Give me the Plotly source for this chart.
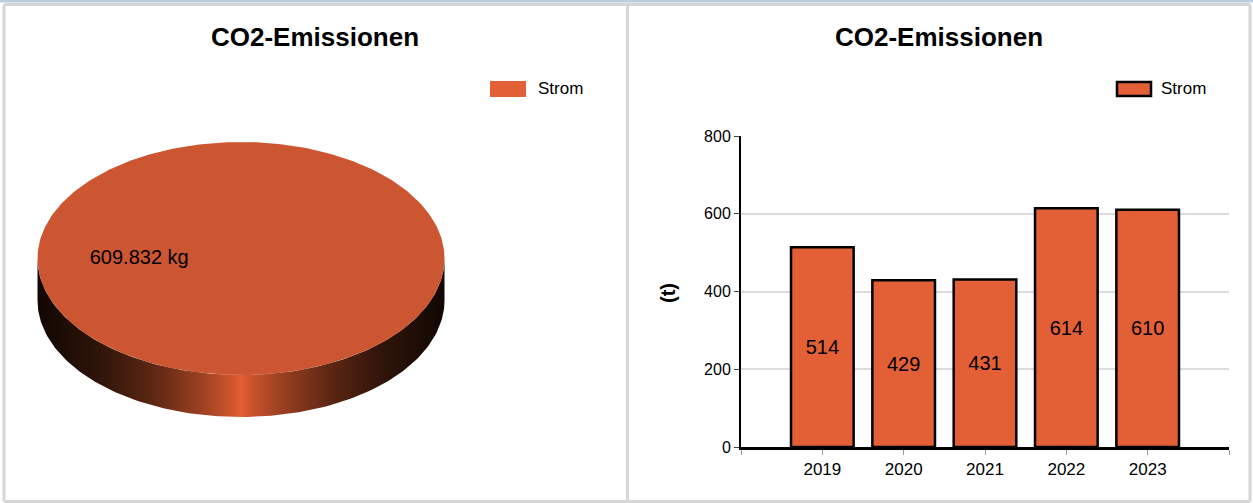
import numpy as np
import plotly.graph_objects as go

# left panel: total per source (kg)
pie_labels = ['Strom']
pie_values = [609.832]
pie_unit = 'kg'

# right panel: yearly emissions per source (t)
years = [2019, 2020, 2021, 2022, 2023]
strom_t = [514, 429, 431, 614, 610]
series_name = 'Strom'

chart_title = 'CO2-Emissionen'
y_title = '(t)'

W, H = 1253, 503
FONT = 'Arial, Liberation Sans, sans-serif'
ORANGE = '#e36036'
TOP_FACE = '#cc5631'

# 3d pie geometry (pixels)
CX, CY, RX, RY, DEPTH = 241, 258.5, 203.5, 116.5, 42

side_scale = [
    [0.0, '#120704'], [0.15, '#2e1409'], [0.28, '#5c2613'], [0.4, '#9a4022'],
    [0.47, '#c9522d'], [0.5, '#e35e35'], [0.53, '#c9522d'], [0.6, '#9a4022'],
    [0.72, '#5c2613'], [0.85, '#2e1409'], [1.0, '#120704'],
]

fig = go.Figure()

# bars
fig.add_trace(go.Bar(x=years, y=strom_t, width=0.77, name=series_name,
                     marker=dict(color=ORANGE, line=dict(color='black', width=2.5)),
                     text=[str(v) for v in strom_t], textposition='inside',
                     insidetextanchor='middle', textangle=0,
                     textfont=dict(size=20, color='black', family=FONT),
                     showlegend=False))

# pie drawn as an ellipse on a pixel-space axis pair
total = sum(pie_values)
start = 0.0
for lab, val in zip(pie_labels, pie_values):
    a0 = start
    a1 = start + 2 * np.pi * val / total
    start = a1

    # side wall, only the visible front half
    s0, s1 = max(a0, 0.0), min(a1, np.pi)
    if s1 > s0:
        t = np.linspace(s0, s1, 160)
        xs = CX + RX * np.cos(t)
        ys = CY + RY * np.sin(t)
        fig.add_trace(go.Scatter(x=np.r_[xs, xs[::-1]], y=np.r_[ys, ys[::-1] + DEPTH],
                                 xaxis='x2', yaxis='y2', mode='lines', line=dict(width=0),
                                 fill='toself',
                                 fillgradient=dict(type='horizontal', colorscale=side_scale),
                                 hoverinfo='skip', showlegend=False))

    # top face
    t = np.linspace(a0, a1, 300)
    xs = CX + RX * np.cos(t)
    ys = CY + RY * np.sin(t)
    if a1 - a0 < 2 * np.pi - 1e-9:
        xs = np.r_[CX, xs, CX]
        ys = np.r_[CY, ys, CY]
    fig.add_trace(go.Scatter(x=xs, y=ys, xaxis='x2', yaxis='y2', mode='lines',
                             line=dict(width=0), fill='toself', fillcolor=TOP_FACE,
                             name=lab, hoverinfo='skip', showlegend=False))

    mid = (a0 + a1) / 2
    fig.add_trace(go.Scatter(x=[CX + 0.5 * RX * np.cos(mid)], y=[CY + 0.5 * RY * np.sin(mid)],
                             xaxis='x2', yaxis='y2', mode='text',
                             text=[f'{val:.3f} {pie_unit}'],
                             textfont=dict(size=20, color='black', family=FONT),
                             hoverinfo='skip', showlegend=False))

# frame around the two panels (pixel space on x2/y2)
shapes = [
    dict(type='rect', xref='x2', yref='y2', x0=0, x1=W, y0=0, y1=2.5,
         fillcolor='#b9cde5', line=dict(width=0)),
]
for x0, x1, y0, y1 in [(4, 1250, 4.5, 4.5), (4, 1250, 501.5, 501.5),
                       (4, 4, 4.5, 501.5), (627.5, 627.5, 4.5, 501.5),
                       (1250, 1250, 4.5, 501.5)]:
    shapes.append(dict(type='line', xref='x2', yref='y2', x0=x0, x1=x1, y0=y0, y1=y1,
                       line=dict(color='#d6d6d6', width=3)))

# legend swatches
shapes.append(dict(type='rect', xref='x2', yref='y2', x0=490, x1=526, y0=81, y1=97,
                   fillcolor=ORANGE, line=dict(width=0)))
shapes.append(dict(type='rect', xref='x2', yref='y2', x0=1117, x1=1151, y0=82, y1=96,
                   fillcolor=ORANGE, line=dict(color='black', width=2.5)))

annotations = [
    dict(xref='x2', yref='y2', x=314.5, y=37, text=chart_title, showarrow=False,
         font=dict(size=26, color='black', family=FONT, weight='bold')),
    dict(xref='x2', yref='y2', x=939, y=37, text=chart_title, showarrow=False,
         font=dict(size=26, color='black', family=FONT, weight='bold')),
    dict(xref='x2', yref='y2', x=536, y=88, text=pie_labels[0], showarrow=False,
         xanchor='left', font=dict(size=17, color='black', family=FONT)),
    dict(xref='x2', yref='y2', x=1159, y=88, text=series_name, showarrow=False,
         xanchor='left', font=dict(size=17, color='black', family=FONT)),
    dict(xref='x2', yref='y2', x=668, y=293, text=y_title, showarrow=False, textangle=-90,
         font=dict(size=20, color='black', family=FONT, weight='bold')),
]

fig.update_layout(
    width=W, height=H,
    margin=dict(l=0, r=0, t=0, b=0, pad=0, autoexpand=False),
    paper_bgcolor='white', plot_bgcolor='rgba(0,0,0,0)',
    font=dict(family=FONT, color='black'),
    showlegend=False,
    xaxis=dict(domain=[741 / W, 1229 / W], anchor='y', range=[2018, 2024],
               tickvals=[2018] + years + [2024], ticktext=[''] + [str(y) for y in years] + [''],
               showline=True, linecolor='black', linewidth=3,
               ticks='outside', ticklen=5, tickcolor='#999999', tickwidth=1,
               tickfont=dict(size=17), showgrid=False, zeroline=False,
               automargin=False, fixedrange=True),
    yaxis=dict(domain=[1 - 447 / H, 1 - 136 / H], anchor='x', range=[0, 800], dtick=200,
               showline=True, linecolor='black', linewidth=2,
               ticks='outside', ticklen=5, tickcolor='#444444', tickwidth=1,
               tickfont=dict(size=16), gridcolor='#dcdcdc', gridwidth=2,
               zeroline=False, automargin=False, fixedrange=True),
    xaxis2=dict(domain=[0, 1], anchor='y2', range=[0, W], visible=False,
                automargin=False, fixedrange=True),
    yaxis2=dict(domain=[0, 1], anchor='x2', range=[H, 0], visible=False,
                automargin=False, fixedrange=True),
    shapes=shapes,
    annotations=annotations,
)

fig.write_html("out.html", config={'displayModeBar': False},
               post_script="document.body.style.margin='0px';")
